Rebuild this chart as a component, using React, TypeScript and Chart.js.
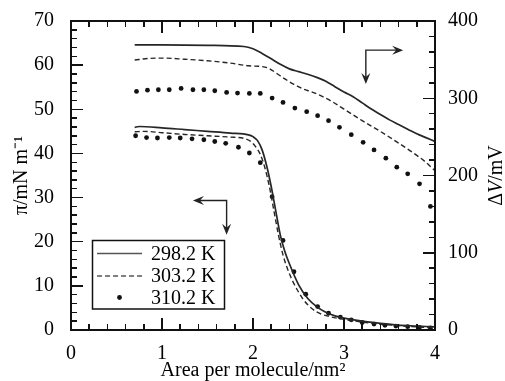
import React, { useEffect, useRef, useState } from "react";
import { Chart, registerables } from "chart.js";

Chart.register(...registerables);

// Surface pressure isotherms (left axis, mN/m)
const piX298 = [0.70, 0.75, 1.0, 1.25, 1.5, 1.75, 1.95, 2.0, 2.05, 2.1, 2.15, 2.2, 2.25, 2.3, 2.35, 2.4, 2.5, 2.6, 2.7, 2.8, 2.9, 3.0, 3.2, 3.4, 3.6, 3.8, 4.0];
const piY298 = [45.9, 46.1, 45.8, 45.4, 45.0, 44.6, 44.2, 43.8, 42.9, 40.8, 37.2, 32.5, 27.0, 21.5, 17.8, 15.0, 10.3, 7.2, 5.3, 4.0, 3.2, 2.7, 2.0, 1.5, 1.1, 0.9, 0.7];

const piX303 = [0.70, 0.8, 1.0, 1.25, 1.5, 1.75, 1.9, 1.97, 2.03, 2.08, 2.13, 2.18, 2.23, 2.28, 2.33, 2.38, 2.45, 2.55, 2.65, 2.75, 2.85, 3.0, 3.2, 3.4, 3.6, 3.8, 4.0];
const piY303 = [44.9, 45.0, 44.7, 44.3, 44.0, 43.7, 43.4, 42.8, 41.5, 39.8, 36.8, 32.5, 27.0, 21.5, 17.0, 13.8, 10.5, 7.0, 4.8, 3.6, 3.0, 2.4, 1.8, 1.3, 1.0, 0.7, 0.5];

const piX310 = [0.71, 0.83, 0.95, 1.08, 1.20, 1.33, 1.46, 1.58, 1.70, 1.84, 1.96, 2.08, 2.21, 2.33, 2.45, 2.58, 2.71, 2.83, 2.96, 3.08, 3.20, 3.33, 3.45, 3.57, 3.70, 3.83, 3.95];
const piY310 = [44.0, 43.6, 43.5, 43.6, 43.5, 43.3, 43.1, 42.7, 42.3, 41.4, 40.1, 37.9, 30.2, 20.3, 13.2, 8.1, 5.3, 3.8, 2.9, 2.3, 1.7, 1.35, 1.05, 0.9, 0.75, 0.6, 0.45];

// Surface potential isotherms (right axis, mV)
const dvX298 = [0.70, 1.0, 1.5, 1.9, 2.0, 2.1, 2.2, 2.3, 2.4, 2.5, 2.6, 2.7, 2.8, 2.9, 3.0, 3.1, 3.2, 3.3, 3.4, 3.5, 3.6, 3.7, 3.8, 3.9, 4.0];
const dvY298 = [369, 369, 368.5, 367, 364, 358, 351, 344, 338, 334.5, 331, 327, 322, 315, 308, 302, 294, 286, 279, 272, 266, 260, 254, 249, 244];

const dvX303 = [0.70, 0.85, 1.0, 1.25, 1.5, 1.75, 1.95, 2.1, 2.17, 2.25, 2.35, 2.45, 2.55, 2.65, 2.75, 2.85, 3.0, 3.2, 3.4, 3.6, 3.8, 3.9, 4.0];
const dvY303 = [349.5, 351.5, 352, 350.5, 348.5, 345.5, 342, 341, 339, 333, 325, 318, 312, 308, 303, 297, 286, 271, 257, 242, 226, 217, 206];

const dvX310 = [0.72, 0.84, 0.96, 1.08, 1.21, 1.34, 1.46, 1.58, 1.71, 1.83, 1.96, 2.08, 2.21, 2.33, 2.46, 2.59, 2.71, 2.83, 2.95, 3.08, 3.21, 3.33, 3.46, 3.58, 3.70, 3.83, 3.95];
const dvY310 = [308.8, 310.5, 311, 311, 312.7, 311, 311, 309.7, 307.5, 306.7, 306.2, 306.2, 300.2, 294.6, 287.3, 282.6, 277.4, 271, 262.4, 252.9, 243, 233.1, 222.4, 210.8, 202.2, 189.2, 160];

const seriesLabels = ["298.2 K", "303.2 K", "310.2 K"];

// Axis ranges and ticks (5 minor steps per major step on every axis)
const xRange = [0, 4];
const xMajor = 1;
const xMinor = 0.2;
const yRange = [0, 70];
const yMajor = 10;
const yMinor = 2;
const y1Range = [0, 400];
const y1Major = 100;
const y1Minor = 20;

const xTitle = "Area per molecule/nm²";
const yTitle = "π/mN m⁻¹";

// Annotation arrows in data units (x, left-axis y)
const arrowUpper = { cx: 3.24, cy: 63.4, tipX: 3.65, tipY: 55.7 };
const arrowLower = { cx: 1.71, cy: 29.35, tipX: 1.34, tipY: 21.6 };

const FONT = "'Liberation Serif', 'Times New Roman', serif";
const LINE = "#262626";
const DOT = "#111";
const INK = "#000";
const FRAME = "#111";

function pts(xs: number[], ys: number[]) {
  return xs.map((x, i) => ({ x, y: ys[i] }));
}

type Mark = { left: number; top: number; width: number; height: number };
type Overlay = { frame: Mark; ticks: Mark[] } | null;

function computeOverlay(chart: any): Overlay {
  const a = chart.chartArea;
  const L = a.left, R = a.right, T = a.top, B = a.bottom;
  const tw = 1.5;
  const ticks: Mark[] = [];
  const nx = Math.round((xRange[1] - xRange[0]) / xMinor);
  const kx = Math.round(xMajor / xMinor);
  for (let i = 0; i <= nx; i++) {
    const px = chart.scales.x.getPixelForValue(xRange[0] + i * xMinor);
    const len = i % kx === 0 ? 12 : 6;
    ticks.push({ left: px - tw / 2, top: B - len, width: tw, height: len });
    ticks.push({ left: px - tw / 2, top: T, width: tw, height: len });
  }
  const ny = Math.round((yRange[1] - yRange[0]) / yMinor);
  const ky = Math.round(yMajor / yMinor);
  for (let i = 0; i <= ny; i++) {
    const py = chart.scales.y.getPixelForValue(yRange[0] + i * yMinor);
    const len = i % ky === 0 ? 12 : 6;
    ticks.push({ left: L, top: py - tw / 2, width: len, height: tw });
  }
  const ny1 = Math.round((y1Range[1] - y1Range[0]) / y1Minor);
  const ky1 = Math.round(y1Major / y1Minor);
  for (let i = 0; i <= ny1; i++) {
    const py = chart.scales.y1.getPixelForValue(y1Range[0] + i * y1Minor);
    const len = i % ky1 === 0 ? 12 : 6;
    ticks.push({ left: R - len, top: py - tw / 2, width: len, height: tw });
  }
  return { frame: { left: L - 1, top: T - 1, width: R - L + 2, height: B - T + 2 }, ticks };
}

function drawArrowHead(ctx: any, x: number, y: number, dx: number, dy: number) {
  const L = 11, W = 4.5, N = 7;
  const px = -dy, py = dx;
  ctx.beginPath();
  ctx.moveTo(x, y);
  ctx.lineTo(x - dx * L + px * W, y - dy * L + py * W);
  ctx.lineTo(x - dx * N, y - dy * N);
  ctx.lineTo(x - dx * L - px * W, y - dy * L - py * W);
  ctx.closePath();
  ctx.fill();
}

const decorPlugin = {
  id: "decor",
  afterDatasetsDraw(chart: any) {
    const ctx = chart.ctx;
    const a = chart.chartArea;
    const sx = chart.scales.x, sy = chart.scales.y;
    // arrows
    ctx.save();
    ctx.strokeStyle = "#222";
    ctx.fillStyle = "#222";
    ctx.lineWidth = 1.4;
    for (const ar of [arrowUpper, arrowLower]) {
      const cx = sx.getPixelForValue(ar.cx);
      const cy = sy.getPixelForValue(ar.cy);
      const tx = sx.getPixelForValue(ar.tipX);
      const ty = sy.getPixelForValue(ar.tipY);
      const hdir = tx > cx ? 1 : -1;
      ctx.beginPath();
      ctx.moveTo(tx - hdir * 6, cy);
      ctx.lineTo(cx, cy);
      ctx.lineTo(cx, ty - 6);
      ctx.stroke();
      drawArrowHead(ctx, tx, cy, hdir, 0);
      drawArrowHead(ctx, cx, ty, 0, 1);
    }
    ctx.restore();

    // legend
    const left = a.left + 21.5;
    const bottom = a.bottom - 21;
    const w = 132, h = 68.5;
    const top = bottom - h;
    ctx.save();
    ctx.fillStyle = "#fff";
    ctx.fillRect(left, top, w, h);
    ctx.strokeStyle = "#111";
    ctx.lineWidth = 1.5;
    ctx.strokeRect(left, top, w, h);
    const rows = [top + 13, top + 35.5, top + 57];
    const ds = chart.data.datasets;
    for (let i = 0; i < 3; i++) {
      const d = ds[i];
      const y = rows[i];
      if (d.showLine === false) {
        ctx.fillStyle = DOT;
        ctx.beginPath();
        ctx.arc(left + 27, y, 2.4, 0, Math.PI * 2);
        ctx.fill();
      } else {
        ctx.save();
        ctx.strokeStyle = "#555";
        ctx.lineWidth = 1.6;
        if (d.borderDash) ctx.setLineDash(d.borderDash);
        ctx.beginPath();
        ctx.moveTo(left + 4.5, y);
        ctx.lineTo(left + 49.5, y);
        ctx.stroke();
        ctx.restore();
      }
      ctx.fillStyle = INK;
      ctx.font = `20px ${FONT}`;
      ctx.textBaseline = "middle";
      ctx.textAlign = "left";
      ctx.fillText(d.label, left + 58.5, y + 1);
    }
    ctx.restore();
  },
  afterDraw(chart: any) {
    const ctx = chart.ctx;
    ctx.save();
    ctx.translate(502, 175.5);
    ctx.rotate(-Math.PI / 2);
    ctx.fillStyle = INK;
    ctx.textBaseline = "alphabetic";
    ctx.textAlign = "left";
    const parts = [
      { t: "Δ", f: `20px ${FONT}` },
      { t: "V", f: `italic 20px ${FONT}` },
      { t: "/mV", f: `20px ${FONT}` },
    ];
    let total = 0;
    for (const p of parts) {
      ctx.font = p.f;
      total += ctx.measureText(p.t).width;
    }
    let x = -total / 2;
    for (const p of parts) {
      ctx.font = p.f;
      ctx.fillText(p.t, x, 0);
      x += ctx.measureText(p.t).width;
    }
    ctx.restore();
  },
};

export default function App() {
  const ref = useRef<HTMLCanvasElement | null>(null);
  const [overlay, setOverlay] = useState<Overlay>(null);

  useEffect(() => {
    if (!ref.current) return;
    const tickFont = { family: FONT, size: 20, lineHeight: 1.2 };
    const chart = new Chart(ref.current, {
      type: "line",
      data: {
        datasets: [
          { label: seriesLabels[0], data: pts(piX298, piY298), yAxisID: "y", borderColor: LINE, borderWidth: 1.7, pointRadius: 0, cubicInterpolationMode: "monotone" },
          { label: seriesLabels[1], data: pts(piX303, piY303), yAxisID: "y", borderColor: LINE, borderWidth: 1.4, borderDash: [5, 3], pointRadius: 0, cubicInterpolationMode: "monotone" },
          { label: seriesLabels[2], data: pts(piX310, piY310), yAxisID: "y", showLine: false, pointRadius: 2.4, pointBackgroundColor: DOT, pointBorderWidth: 0, borderColor: DOT },
          { label: seriesLabels[0], data: pts(dvX298, dvY298), yAxisID: "y1", borderColor: LINE, borderWidth: 1.7, pointRadius: 0, cubicInterpolationMode: "monotone" },
          { label: seriesLabels[1], data: pts(dvX303, dvY303), yAxisID: "y1", borderColor: LINE, borderWidth: 1.4, borderDash: [5, 3], pointRadius: 0, cubicInterpolationMode: "monotone" },
          { label: seriesLabels[2], data: pts(dvX310, dvY310), yAxisID: "y1", showLine: false, pointRadius: 2.4, pointBackgroundColor: DOT, pointBorderWidth: 0, borderColor: DOT },
        ] as any,
      },
      options: {
        responsive: false,
        animation: false,
        layout: { padding: { top: 20, left: 0, right: 0, bottom: 0 } },
        plugins: { legend: { display: false }, tooltip: { enabled: false } },
        scales: {
          x: {
            type: "linear",
            min: xRange[0],
            max: xRange[1],
            grid: { display: false },
            border: { display: false },
            ticks: { stepSize: xMajor, font: tickFont, color: INK, padding: 4, maxRotation: 0 },
            title: { display: true, text: xTitle, font: { family: FONT, size: 20, lineHeight: 1 }, color: INK, padding: 0 },
            afterFit: (s: any) => { s.height = 51; },
          },
          y: {
            type: "linear",
            position: "left",
            min: yRange[0],
            max: yRange[1],
            grid: { display: false },
            border: { display: false },
            ticks: { stepSize: yMajor, font: tickFont, color: INK, padding: 9 },
            title: { display: true, text: yTitle, font: { family: FONT, size: 20, lineHeight: 1.2 }, color: INK, padding: { top: 10, bottom: 0 } },
            afterFit: (s: any) => { s.width = 71; },
          },
          y1: {
            type: "linear",
            position: "right",
            min: y1Range[0],
            max: y1Range[1],
            grid: { display: false },
            border: { display: false },
            ticks: { stepSize: y1Major, font: tickFont, color: INK, padding: 5 },
            afterFit: (s: any) => { s.width = 70; },
          },
        },
      } as any,
      plugins: [decorPlugin],
    });
    setOverlay(computeOverlay(chart));
    return () => chart.destroy();
  }, []);

  return (
    <div style={{ position: "absolute", left: 0, top: 0, width: 505, height: 381, background: "#fff" }}>
      <canvas ref={ref} width={505} height={381} style={{ position: "absolute", left: 0, top: 0 }} />
      {overlay && (
        <div
          style={{
            position: "absolute",
            left: overlay.frame.left,
            top: overlay.frame.top,
            width: overlay.frame.width,
            height: overlay.frame.height,
            border: `2px solid ${FRAME}`,
            boxSizing: "border-box",
            pointerEvents: "none",
          }}
        />
      )}
      {overlay &&
        overlay.ticks.map((t, i) => (
          <div
            key={i}
            style={{
              position: "absolute",
              left: t.left,
              top: t.top,
              width: t.width,
              height: t.height,
              background: FRAME,
              pointerEvents: "none",
            }}
          />
        ))}
    </div>
  );
}
